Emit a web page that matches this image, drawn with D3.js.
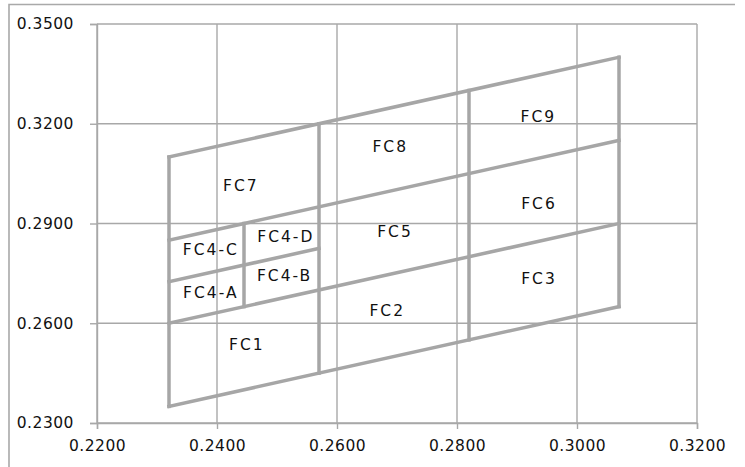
<!DOCTYPE html>
<html>
<head>
<meta charset="utf-8">
<script src="https://cdn.jsdelivr.net/npm/d3@7"></script>
<style>
  html, body { margin: 0; padding: 0; background: #ffffff; }
  svg { display: block; }
  text { font-family: "DejaVu Sans", Verdana, sans-serif; fill: #111111; }
</style>
</head>
<body>
<svg id="chart" width="745" height="467"></svg>
<script>
// ---- data ----
const xTicks = [0.22, 0.24, 0.26, 0.28, 0.30, 0.32];
const yTicks = [0.23, 0.26, 0.29, 0.32, 0.35];
const xDomain = [0.22, 0.32];
const yDomain = [0.23, 0.35];

// slanted boundary lines [x1, y1, x2, y2]
const slantLines = [
  [0.232, 0.235, 0.307, 0.265],
  [0.232, 0.260, 0.307, 0.290],
  [0.232, 0.285, 0.307, 0.315],
  [0.232, 0.310, 0.307, 0.340],
  [0.232, 0.2725, 0.257, 0.2825]
];
// vertical boundary lines [x1, y1, x2, y2]
const vertLines = [
  [0.232, 0.235, 0.232, 0.310],
  [0.257, 0.245, 0.257, 0.320],
  [0.282, 0.255, 0.282, 0.330],
  [0.307, 0.265, 0.307, 0.340],
  [0.2445, 0.265, 0.2445, 0.290]
];

const zoneNames = ["FC1", "FC2", "FC3", "FC4-A", "FC4-B", "FC4-C", "FC4-D", "FC5", "FC6", "FC7", "FC8", "FC9"];
const zoneX = [0.2448, 0.2682, 0.2935, 0.2388, 0.2511, 0.2388, 0.2513, 0.2695, 0.2935, 0.2438, 0.2687, 0.2934];
const zoneY = [0.2536, 0.2637, 0.2734, 0.2692, 0.2741, 0.2821, 0.2859, 0.2874, 0.2960, 0.3014, 0.3130, 0.3220];

// ---- layout ----
const svg = d3.select("#chart");
const mLeft = 97, mRight = 697, mTop = 24, mBottom = 423;
const gridColor = "#a8a8a8";
const shapeColor = "#a6a6a6";

const x = d3.scaleLinear().domain(xDomain).range([mLeft, mRight]);
const y = d3.scaleLinear().domain(yDomain).range([mBottom, mTop]);

// outer chart frame (left and top edges)
svg.append("path")
  .attr("d", "M9,467 L9,4.5 L735,4.5")
  .attr("fill", "none")
  .attr("stroke", "#a9a9a9")
  .attr("stroke-width", 1.6);

// gridlines
const grid = svg.append("g");
grid.selectAll("line.vg").data(xTicks).join("line")
  .attr("class", "vg")
  .attr("x1", d => x(d)).attr("x2", d => x(d))
  .attr("y1", mTop).attr("y2", mBottom)
  .attr("stroke", gridColor).attr("stroke-width", 1.4);
grid.selectAll("line.hg").data(yTicks).join("line")
  .attr("class", "hg")
  .attr("x1", mLeft).attr("x2", mRight)
  .attr("y1", d => y(d)).attr("y2", d => y(d))
  .attr("stroke", gridColor).attr("stroke-width", 1.4);

// axes
const xAxis = d3.axisBottom(x).tickValues(xTicks).tickSize(6).tickPadding(11)
  .tickFormat(d3.format(".4f"));
const yAxis = d3.axisLeft(y).tickValues(yTicks).tickSize(7).tickPadding(16)
  .tickFormat(d3.format(".4f"));

const gx = svg.append("g").attr("transform", `translate(0,${mBottom})`).call(xAxis);
const gy = svg.append("g").attr("transform", `translate(${mLeft},0)`).call(yAxis);
[gx, gy].forEach(g => {
  g.select(".domain").attr("stroke", gridColor).attr("stroke-width", 1.4);
  g.selectAll(".tick line").attr("stroke", gridColor).attr("stroke-width", 1.4);
  g.selectAll(".tick text")
    .attr("font-family", "DejaVu Sans, Verdana, sans-serif")
    .attr("font-size", "15.5px")
    .attr("letter-spacing", "0.5px")
    .attr("fill", "#111111");
});

// shape boundary lines
const shapes = svg.append("g")
  .attr("stroke", shapeColor)
  .attr("stroke-width", 3.5)
  .attr("stroke-linecap", "square");
shapes.selectAll("line.s").data(slantLines.concat(vertLines)).join("line")
  .attr("class", "s")
  .attr("x1", d => x(d[0])).attr("y1", d => y(d[1]))
  .attr("x2", d => x(d[2])).attr("y2", d => y(d[3]));

// zone labels
svg.append("g").selectAll("text").data(zoneNames).join("text")
  .attr("x", (d, i) => x(zoneX[i]) + 1)
  .attr("y", (d, i) => y(zoneY[i]))
  .attr("text-anchor", "middle")
  .attr("dominant-baseline", "central")
  .attr("font-size", "15.5px")
  .attr("letter-spacing", "2px")
  .attr("fill", "#111111")
  .text(d => d);
</script>
</body>
</html>
